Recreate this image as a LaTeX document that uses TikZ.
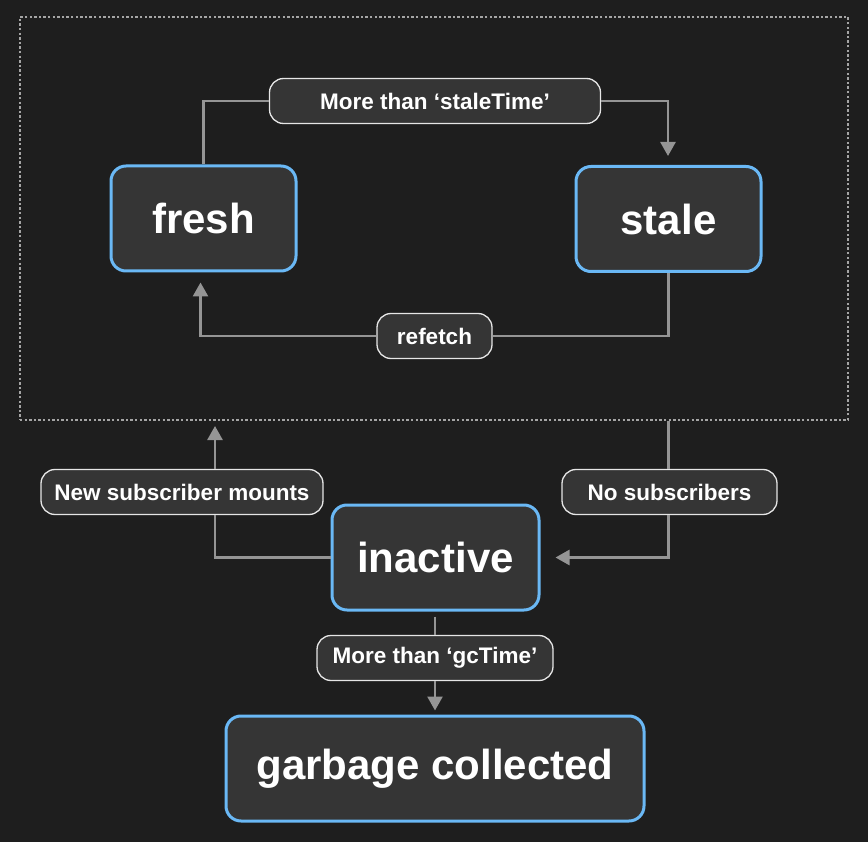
\documentclass[tikz,border=0pt]{standalone}
\usepackage{fontspec}
\setmainfont{Liberation Sans}
\usepackage{tikz}
\usetikzlibrary{arrows.meta}

\definecolor{bgdark}{HTML}{1E1E1E}
\definecolor{boxfill}{HTML}{353535}
\definecolor{stateblue}{HTML}{6AB8F5}
\definecolor{wiregray}{HTML}{959595}
\definecolor{dotgray}{HTML}{A5A5A5}
\definecolor{labeledge}{HTML}{E6E6E6}

\begin{document}
\begin{tikzpicture}[
    x=1pt, y=-1pt,
    every node/.style={text=white, inner sep=0pt},
    state/.style={rectangle, draw=stateblue, line width=3pt, rounded corners=15pt, fill=boxfill,
                  minimum height=105pt, font=\fontsize{42}{46}\selectfont\bfseries},
    tag/.style={rectangle, draw=labeledge, line width=1.3pt, rounded corners=14pt, fill=boxfill,
                minimum height=45pt, font=\fontsize{22.5}{25}\selectfont\bfseries},
    arrow/.style={-{Triangle[width=15pt,length=14pt]}, draw=wiregray, line width=2.6pt},
    wire/.style={draw=wiregray, line width=2.6pt},
    zone/.style={rectangle, draw=dotgray, line width=2.4pt, dash pattern=on 2.4pt off 2.2pt},
]
\fill[bgdark] (0,0) rectangle (868,842);
\useasboundingbox (0,0) rectangle (868,842);

% active area
\node[zone, minimum width=828pt, minimum height=403pt] (active) at (434,218.5) {};

% states
\node[state, minimum width=185pt] (fresh) at (203.5,218.5) {fresh};
\node[state, minimum width=185pt] (stale) at (668.5,219) {stale};
\node[state, minimum width=207pt] (inactive) at (435.5,557.5) {inactive};
\node[state, minimum width=418pt] (gc) at (435,768.5) {garbage collected};

% transition labels
\node[tag, minimum width=331pt] (lblstale) at (435,101) {More than ‘staleTime’};
\node[tag, minimum width=115pt] (lblrefetch) at (434.5,336) {refetch};
\node[tag, minimum width=282pt] (lblmount) at (182,492) {New subscriber mounts};
\node[tag, minimum width=215pt] (lblnosub) at (669.5,492) {No subscribers};
\node[tag, minimum width=236pt] (lblgc) at (435,658) {More than ‘gcTime’};

\coordinate (mountin) at (215,420);

% transitions
\draw[wire] (fresh.north) |- (lblstale.west);
\draw[arrow, shorten >=9pt] (lblstale.east) -| ([xshift=-0.5pt]stale.north);
\draw[wire] (stale.south) |- (lblrefetch.east);
\draw[arrow, shorten >=10pt] (lblrefetch.west) -| ([xshift=-3pt]fresh.south);
\draw[wire] (active.south -| stale) -- (lblnosub.north -| stale);
\draw[arrow, shorten >=15pt] (lblnosub.south -| stale) |- (inactive.east);
\draw[wire] (inactive.west) -| ([xshift=33pt]lblmount.south);
\draw[arrow, shorten >=6pt] ([xshift=33pt]lblmount.north) -- (mountin);
\draw[wire, shorten <=5pt] (inactive.south -| lblgc) -- (lblgc.north);
\draw[arrow, shorten >=4pt] (lblgc.south) -- (gc.north);
\end{tikzpicture}
\end{document}
